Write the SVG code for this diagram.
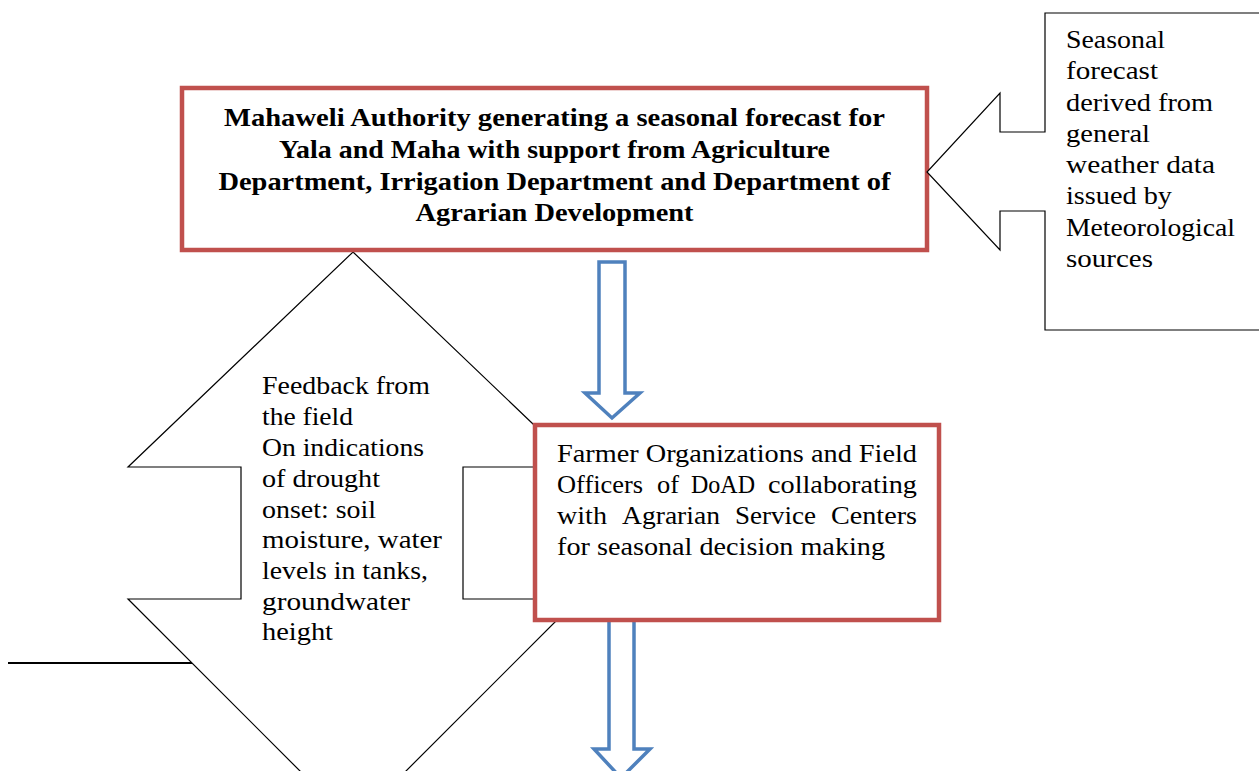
<svg xmlns="http://www.w3.org/2000/svg" width="1259" height="771" viewBox="0 0 1259 771">
  <style>
    .t { font-family: "Liberation Serif", "DejaVu Serif", serif; font-size: 26px; fill: #000; }
    .b { font-weight: bold; text-anchor: middle; }
    .outline { fill: #fff; stroke: #000; stroke-width: 1.2; }
    .redbox { fill: #fff; stroke: #C0504D; stroke-width: 4.5; }
    .blue { fill: #fff; stroke: #4F81BD; stroke-width: 3.5; }
  </style>
  <rect width="1259" height="771" fill="#fff"/>

  <g id="feedback-callout">
    <line x1="8" y1="663" x2="192" y2="663" stroke="#000" stroke-width="2.2"/>
    <polygon class="outline" points="353,252 578,467 463,467 463,599 578,599 353,824 128,599 241,599 241,467 128,467"/>
    <text class="t" x="262" y="394" textLength="168" lengthAdjust="spacingAndGlyphs">Feedback from</text>
    <text class="t" x="262" y="425" textLength="91" lengthAdjust="spacingAndGlyphs">the field</text>
    <text class="t" x="262" y="456" textLength="162" lengthAdjust="spacingAndGlyphs">On indications</text>
    <text class="t" x="262" y="487" textLength="118" lengthAdjust="spacingAndGlyphs">of drought</text>
    <text class="t" x="262" y="518" textLength="114" lengthAdjust="spacingAndGlyphs">onset: soil</text>
    <text class="t" x="262" y="548" textLength="180" lengthAdjust="spacingAndGlyphs">moisture, water</text>
    <text class="t" x="262" y="579" textLength="166" lengthAdjust="spacingAndGlyphs">levels in tanks,</text>
    <text class="t" x="262" y="610" textLength="148" lengthAdjust="spacingAndGlyphs">groundwater</text>
    <text class="t" x="262" y="640" textLength="71" lengthAdjust="spacingAndGlyphs">height</text>
  </g>

  <g id="connectors">
    <polygon class="blue" points="599,262 625,262 625,393 640,393 612,418 585,393 599,393"/>
    <polygon class="blue" points="609,610 634,610 634,749 650,749 621,778 594,749 609,749"/>
  </g>

  <g id="mahaweli">
    <rect class="redbox" x="182" y="88" width="745" height="162"/>
    <text class="t b" x="554.5" y="126" textLength="661" lengthAdjust="spacingAndGlyphs">Mahaweli Authority generating a seasonal forecast for</text>
    <text class="t b" x="554.5" y="158" textLength="551" lengthAdjust="spacingAndGlyphs">Yala and Maha with support from Agriculture</text>
    <text class="t b" x="554.5" y="190" textLength="672" lengthAdjust="spacingAndGlyphs">Department, Irrigation Department and Department of</text>
    <text class="t b" x="554.5" y="221" textLength="278" lengthAdjust="spacingAndGlyphs">Agrarian Development</text>
  </g>

  <g id="farmer-orgs">
    <rect class="redbox" x="535" y="425" width="404" height="195"/>
    <text class="t" x="557" y="462" textLength="360" lengthAdjust="spacingAndGlyphs">Farmer Organizations and Field</text>
    <text class="t" x="557" y="493" textLength="86" lengthAdjust="spacingAndGlyphs">Officers</text>
    <text class="t" x="657" y="493" textLength="22" lengthAdjust="spacingAndGlyphs">of</text>
    <text class="t" x="691" y="493" textLength="64" lengthAdjust="spacingAndGlyphs">DoAD</text>
    <text class="t" x="768" y="493" textLength="149" lengthAdjust="spacingAndGlyphs">collaborating</text>
    <text class="t" x="557" y="524" textLength="50" lengthAdjust="spacingAndGlyphs">with</text>
    <text class="t" x="622" y="524" textLength="98" lengthAdjust="spacingAndGlyphs">Agrarian</text>
    <text class="t" x="735" y="524" textLength="81" lengthAdjust="spacingAndGlyphs">Service</text>
    <text class="t" x="831" y="524" textLength="86" lengthAdjust="spacingAndGlyphs">Centers</text>
    <text class="t" x="557" y="555" textLength="328" lengthAdjust="spacingAndGlyphs">for seasonal decision making</text>
  </g>

  <g id="seasonal-callout">
    <polygon class="outline" points="1045,13 1265,13 1265,330 1045,330 1045,211 1000,211 1000,250 927,172 1000,93 1000,132 1045,132"/>
    <text class="t" x="1066" y="48" textLength="99" lengthAdjust="spacingAndGlyphs">Seasonal</text>
    <text class="t" x="1066" y="79" textLength="92" lengthAdjust="spacingAndGlyphs">forecast</text>
    <text class="t" x="1066" y="111" textLength="147" lengthAdjust="spacingAndGlyphs">derived from</text>
    <text class="t" x="1066" y="142" textLength="84" lengthAdjust="spacingAndGlyphs">general</text>
    <text class="t" x="1066" y="173" textLength="149" lengthAdjust="spacingAndGlyphs">weather data</text>
    <text class="t" x="1066" y="204" textLength="106" lengthAdjust="spacingAndGlyphs">issued by</text>
    <text class="t" x="1066" y="236" textLength="169" lengthAdjust="spacingAndGlyphs">Meteorological</text>
    <text class="t" x="1066" y="267" textLength="87" lengthAdjust="spacingAndGlyphs">sources</text>
  </g>
</svg>
